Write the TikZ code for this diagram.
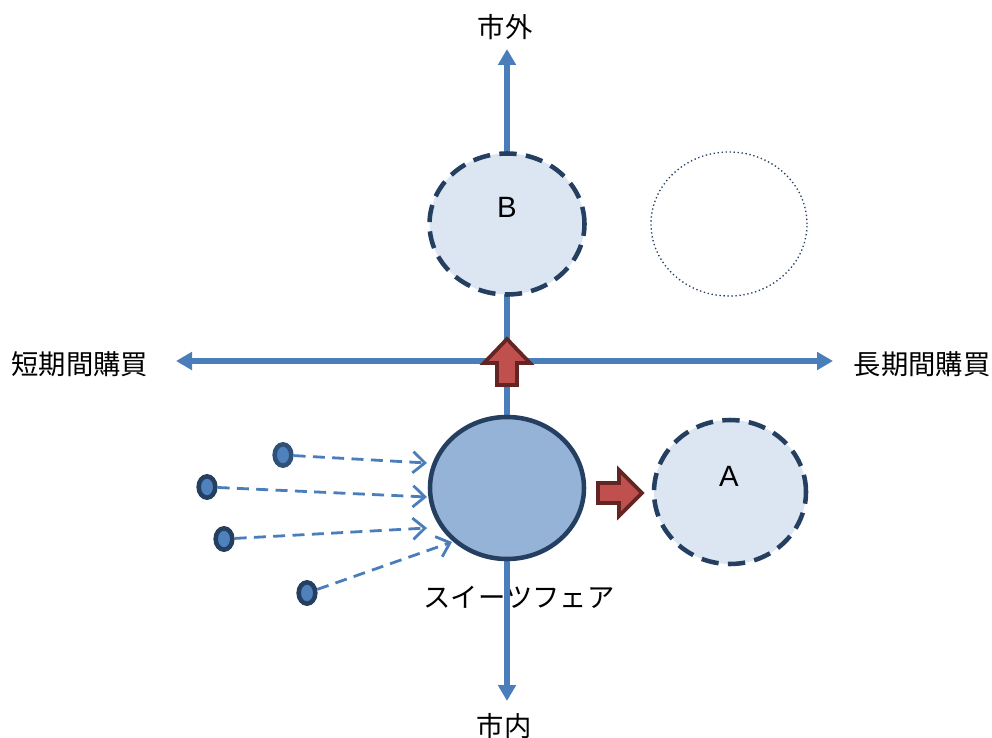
\documentclass[tikz,border=0pt]{standalone}
\usepackage{fontspec}
\setmainfont{Liberation Sans}
\newfontfamily\jp{Noto Sans CJK JP}
\usetikzlibrary{shapes.geometric,arrows.meta}
\definecolor{axisblue}{HTML}{4A7EBB}
\definecolor{darknavy}{HTML}{243F60}
\definecolor{lightfill}{HTML}{DCE6F2}
\definecolor{midfill}{HTML}{95B3D7}
\definecolor{dotfill}{HTML}{4F81BD}
\definecolor{redfill}{HTML}{C0504D}
\definecolor{redline}{HTML}{632523}
\tikzset{
  axisline/.style={draw=axisblue, line width=3.8pt, {Triangle[length=12pt,width=13pt]}-{Triangle[length=12pt,width=13pt]}},
  jplabel/.style={font=\jp\fontsize{20.5pt}{24pt}\selectfont, inner sep=0pt},
  letter/.style={font=\fontsize{22pt}{26pt}\selectfont, inner sep=0pt},
  dashcircle/.style={ellipse, draw=darknavy, fill=lightfill, line width=3.4pt, dash pattern=on 13pt off 7pt, inner sep=0pt},
  dotcircle/.style={ellipse, draw=darknavy, line width=1pt, dash pattern=on 1pt off 2pt, inner sep=0pt},
  maincircle/.style={ellipse, draw=darknavy, fill=midfill, line width=3.4pt, inner sep=0pt},
  smalldot/.style={ellipse, draw=darknavy, fill=dotfill, line width=3.4pt, minimum width=12.5pt, minimum height=16pt, inner sep=0pt},
  flow/.style={draw=axisblue, line width=2.1pt, dash pattern=on 9pt off 5.5pt, -{Straight Barb[length=9pt,width=16pt,line width=2.1pt]}},
  blockarrow/.style={fill=redfill, draw=redline, line width=2.8pt, line join=miter}
}
\begin{document}
\begin{tikzpicture}[x=0.75pt,y=-0.75pt]
\useasboundingbox (0,0) rectangle (992,738);

% labels
\node[jplabel] (out) at (505,27) {市外};
\node[jplabel] (in) at (504,726) {市内};
\node[jplabel] (short) at (80,364) {短期間購買};
\node[jplabel] (long) at (922,364) {長期間購買};
\node[jplabel] (fair) at (519,597) {スイーツフェア};

% axes
\coordinate (vt) at (507,49);
\coordinate (vb) at (507,701);
\coordinate (hl) at (176,361);
\coordinate (hr) at (833,361);
\draw[axisline] (vb) -- (vt);
\draw[axisline] (hl) -- (hr);

% circles
\node[dashcircle, minimum width=155*0.75pt, minimum height=141*0.75pt] (B) at (507,224) {};
\node[letter] (Blabel) at (507,207) {B};
\node[dotcircle, minimum width=156*0.75pt, minimum height=144*0.75pt] (E) at (729,224) {};
\node[maincircle, minimum width=154*0.75pt, minimum height=142*0.75pt] (C) at (507,488) {};
\node[dashcircle, minimum width=152*0.75pt, minimum height=144*0.75pt] (A) at (730,492) {};
\node[letter] (Alabel) at (729,476) {A};

% block arrows
\draw[blockarrow] (497,385) -- (497,363) -- (484,363) -- (507,339) -- (530,363) -- (517,363) -- (517,385) -- cycle;
\draw[blockarrow] (598,483) -- (619,483) -- (619,470) -- (642,493) -- (619,516) -- (619,503) -- (598,503) -- cycle;

% small dots
\node[smalldot, draw=darknavy!75!dotfill] (d1) at (283,455) {};
\node[smalldot] (d2) at (207,487) {};
\node[smalldot] (d3) at (224,539) {};
\node[smalldot] (d4) at (307,593) {};

% flow arrow ends
\coordinate (t1) at (427,463);
\coordinate (t2) at (427,497);
\coordinate (t3) at (427,528);
\coordinate (t4) at (452,542);
\draw[flow] (d1) -- (t1);
\draw[flow] (d2) -- (t2);
\draw[flow] (d3) -- (t3);
\draw[flow] (d4) -- (t4);
\end{tikzpicture}
\end{document}
